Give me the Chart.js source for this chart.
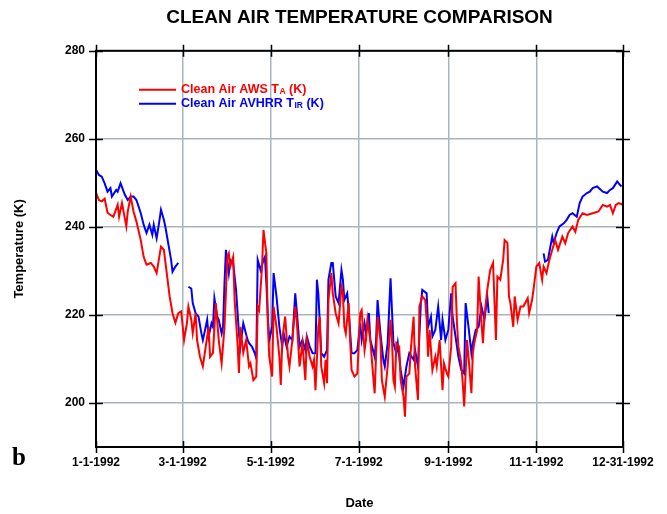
<!DOCTYPE html>
<html>
<head>
<meta charset="utf-8">
<title>Clean Air Temperature Comparison</title>
<script src="https://cdn.jsdelivr.net/npm/chart.js@4.4.1/dist/chart.umd.min.js"></script>
<style>
  html, body { margin: 0; padding: 0; background: #fff; }
  #wrap { width: 667px; height: 514px; position: relative; }
</style>
</head>
<body>
<div id="wrap"><canvas id="tempChart"></canvas></div>
<script>
// day of year (0 = 1-1-1992) and temperature (K)
const awsDay = [0, 2, 4, 6, 8, 10, 12, 15, 16, 18, 21, 22, 24, 26, 28, 31, 33, 35, 38, 40, 42, 45, 47, 49, 51, 53, 55, 57, 59, 61,
    63, 64, 66, 67, 69, 70, 72, 74, 76, 78, 79, 81, 83, 85, 87, 89, 91, 92, 93, 95, 96, 98, 99, 100, 102, 104, 106, 107, 109, 111,
    112, 113, 115, 116, 118, 119, 120, 122, 123, 125, 127, 128, 129, 131, 133, 134, 136, 138, 139, 141, 143, 145, 146, 148, 150, 151, 152, 154, 155, 156,
    158, 159, 160, 161, 163, 164, 166, 168, 170, 171, 172, 173, 175, 176, 177, 179, 181, 183, 184, 186, 187, 188, 190, 192, 193, 195, 197, 198, 200, 202,
    204, 205, 206, 207, 208, 210, 211, 213, 214, 215, 217, 218, 220, 221, 223, 224, 226, 228, 229, 230, 231, 233, 235, 236, 238, 240, 241, 243, 244, 246,
    247, 249, 250, 251, 253, 254, 255, 257, 258, 260, 261, 262, 264, 265, 267, 268, 269, 271, 273, 275, 277, 278, 280, 282, 283, 285, 286, 287, 289, 290,
    292, 294, 296, 299, 300, 302, 303, 305, 307, 309, 310, 312, 314, 316, 318, 320, 323, 325, 327, 330, 332, 334, 337, 340, 344, 348, 351, 354, 356, 358,
    360, 362, 365];
const awsTemp = [247.8, 246.1, 245.8, 246.4, 243.2, 242.7, 242.3, 245.0, 242.3, 245.4, 240.1, 243.5, 246.9, 243.5, 241.2, 237.0, 233.2, 231.4, 231.8, 231.0, 229.5, 235.5, 234.8, 229.5, 224.2, 220.4, 218.2, 220.4, 220.8, 214.3,
    218.2, 221.9, 218.9, 215.9, 220.4, 214.3, 210.5, 208.3, 212.8, 217.3, 210.5, 211.4, 222.7, 214.3, 209.0, 217.3, 233.2, 234.0, 231.0, 233.2, 223.4, 213.6, 206.8, 217.3, 211.4, 214.3, 208.3, 209.0, 205.2, 206.0,
    221.9, 221.1, 231.0, 239.3, 234.0, 218.2, 210.5, 206.0, 221.9, 217.3, 210.5, 204.1, 214.3, 219.6, 210.5, 208.3, 214.3, 221.9, 218.9, 208.3, 213.6, 205.2, 214.3, 210.5, 208.3, 209.8, 202.9, 217.3, 219.6, 208.3,
    204.5, 209.8, 204.5, 223.4, 229.5, 224.9, 220.4, 218.1, 226.4, 224.9, 217.3, 215.8, 222.7, 214.3, 207.5, 206.0, 206.7, 220.4, 221.1, 212.0, 214.3, 218.9, 214.3, 206.0, 202.2, 219.6, 214.3, 205.2, 201.4, 208.3,
    218.9, 214.3, 205.2, 203.7, 213.6, 212.8, 205.2, 201.4, 196.9, 206.0, 206.7, 212.0, 219.6, 208.3, 200.7, 221.9, 224.2, 223.4, 218.9, 210.5, 216.6, 207.5, 210.5, 208.3, 214.3, 202.9, 209.0, 206.7, 206.0, 212.8,
    226.4, 227.2, 218.1, 212.8, 209.0, 204.5, 199.2, 214.3, 210.5, 202.2, 211.3, 213.6, 216.6, 228.7, 218.1, 213.6, 219.6, 225.7, 230.2, 231.8, 214.3, 228.7, 228.0, 232.5, 237.0, 236.3, 224.2, 222.7, 217.3, 224.2,
    218.9, 221.9, 221.9, 223.8, 220.4, 223.4, 225.7, 231.0, 231.8, 228.0, 231.0, 229.5, 232.5, 234.8, 237.0, 234.8, 237.8, 236.3, 238.6, 240.1, 238.9, 241.6, 243.1, 242.7, 243.1, 243.5, 245.0, 244.6, 245.0, 243.1,
    245.0, 245.4, 245.0];

const avhrrDay = [0, 2, 4, 6, 8, 10, 11, 14, 15, 17, 20, 22, 24, 26, 28, 31, 33, 35, 37, 39, 40, 42, 44, 45, 47, 48, 50, 52, 53, 55,
    57, 60, 64, 66, 67, 69, 71, 73, 74, 75, 77, 78, 80, 81, 82, 84, 85, 87, 88, 89, 90, 92, 93, 95, 97, 99, 100, 102, 105, 106,
    108, 110, 111, 112, 114, 116, 117, 118, 119, 120, 122, 123, 125, 127, 129, 130, 132, 134, 136, 138, 139, 141, 143, 145, 146, 148, 150, 152, 153, 154,
    156, 158, 160, 161, 163, 164, 166, 168, 170, 171, 172, 174, 175, 177, 179, 181, 183, 184, 186, 187, 189, 190, 193, 194, 195, 197, 199, 200, 202, 203,
    204, 206, 208, 209, 211, 213, 215, 216, 217, 220, 221, 223, 225, 226, 229, 230, 232, 233, 235, 237, 239, 240, 242, 244, 246, 247, 249, 251, 253, 255,
    256, 258, 260, 261, 263, 265, 267, 269, 271, 272, 290, 310, 311, 313, 316, 317, 319, 321, 324, 326, 328, 330, 333, 335, 337, 340, 342, 344, 347, 349,
    351, 354, 356, 358, 361, 363, 364];
const avhrrTemp = [253.0, 251.8, 251.4, 249.9, 248.0, 248.8, 246.9, 248.4, 248.0, 249.9, 247.3, 246.1, 246.9, 246.9, 246.1, 243.1, 240.5, 238.6, 240.5, 238.2, 240.5, 237.4, 241.6, 243.9, 241.6, 240.1, 236.3, 232.5, 229.8, 231.0,
    231.8, null, 226.4, 226.0, 222.7, 220.4, 219.6, 215.8, 214.3, 215.8, 218.9, 215.1, 218.1, 217.3, 223.8, 219.6, 218.9, 215.8, 217.3, 227.2, 234.8, 229.5, 232.5, 231.8, 225.7, 215.8, 212.8, 218.1, 214.3, 213.6,
    212.8, 211.3, 210.2, 232.5, 230.2, 232.5, 233.2, 227.2, 219.6, 214.3, 217.3, 229.5, 224.2, 217.3, 212.8, 215.8, 212.8, 215.1, 214.3, 224.9, 221.1, 212.8, 214.3, 212.0, 215.1, 212.8, 211.3, 211.3, 228.0, 224.9,
    211.3, 210.5, 212.0, 228.0, 231.8, 231.8, 224.2, 222.7, 230.2, 228.0, 223.4, 224.9, 221.1, 211.3, 211.3, 212.0, 218.1, 214.3, 218.1, 215.8, 220.4, 214.3, 210.5, 214.3, 223.4, 215.8, 209.8, 208.3, 213.6, 221.1,
    228.3, 213.6, 211.3, 213.6, 207.5, 203.7, 208.3, 209.8, 211.3, 209.8, 212.0, 208.3, 222.7, 225.7, 224.9, 217.3, 219.6, 215.1, 216.6, 221.9, 214.3, 218.9, 214.3, 216.6, 224.9, 219.6, 215.1, 210.5, 207.5, 206.7,
    222.7, 217.3, 211.3, 213.6, 216.6, 217.3, 221.9, 218.9, 224.2, 220.4, null, 234.0, 232.1, 232.5, 237.8, 236.3, 238.6, 240.1, 240.8, 241.6, 242.7, 243.1, 242.3, 245.4, 246.9, 247.7, 248.0, 248.8, 249.2, 248.6,
    248.0, 247.7, 248.4, 248.8, 250.3, 249.5, 249.2];

const xTickDays = [0, 60, 121, 182, 244, 305, 365];
const xTickLabels = ["1-1-1992", "3-1-1992", "5-1-1992", "7-1-1992", "9-1-1992", "11-1-1992", "12-31-1992"];
const yTicks = [200, 220, 240, 260, 280];

const gridColor = "#a9b6bd";
const fontFamily = "'Liberation Sans', Arial, Helvetica, sans-serif";

Chart.defaults.font.family = fontFamily;
Chart.defaults.color = "#000";

// black frame with tick marks crossing each side, legend and panel letter
const framePlugin = {
    id: "frame",
    afterDatasetsDraw(chart) {
        let ctx = chart.ctx;
        let a = chart.chartArea;
        let xs = chart.scales.x;
        let ys = chart.scales.y;
        ctx.save();
        ctx.strokeStyle = "#000";
        ctx.lineWidth = 2;
        ctx.strokeRect(a.left, a.top, a.right - a.left, a.bottom - a.top);
        ctx.lineWidth = 1.5;
        ctx.beginPath();
        xTickDays.forEach(d => {
            let px = Math.round(xs.getPixelForValue(d)) + 0.5;
            ctx.moveTo(px, a.top - 6); ctx.lineTo(px, a.top + 6);
            ctx.moveTo(px, a.bottom - 6); ctx.lineTo(px, a.bottom + 6);
        });
        yTicks.forEach(v => {
            let py = Math.round(ys.getPixelForValue(v)) + 0.5;
            ctx.moveTo(a.left - 7, py); ctx.lineTo(a.left + 7, py);
            ctx.moveTo(a.right - 7, py); ctx.lineTo(a.right + 7, py);
        });
        ctx.stroke();
        ctx.restore();
    },
    afterDraw(chart) {
        let ctx = chart.ctx;
        let a = chart.chartArea;
        ctx.save();
        drawLegendItem(ctx, a.left + 43, a.top + 39, "#ff0000", "Clean Air AWS T", "A", " (K)");
        drawLegendItem(ctx, a.left + 43, a.top + 53, "#0000ff", "Clean Air AVHRR T", "IR", " (K)");
        ctx.fillStyle = "#000";
        ctx.font = "bold 25px 'Liberation Serif', 'Times New Roman', serif";
        ctx.textBaseline = "middle";
        ctx.textAlign = "left";
        ctx.fillText("b", 12, 459);
        ctx.restore();
    }
};

function drawLegendItem(ctx, x, y, color, main, sub, tail) {
    ctx.strokeStyle = color;
    ctx.lineWidth = 2;
    ctx.beginPath();
    ctx.moveTo(x, y);
    ctx.lineTo(x + 37, y);
    ctx.stroke();
    ctx.fillStyle = color;
    ctx.textBaseline = "middle";
    ctx.textAlign = "left";
    let tx = x + 42;
    ctx.font = "bold 12.5px " + fontFamily;
    ctx.fillText(main, tx, y);
    tx += ctx.measureText(main).width + 0.5;
    ctx.font = "bold 8.5px " + fontFamily;
    ctx.fillText(sub, tx, y + 2);
    tx += ctx.measureText(sub).width;
    ctx.font = "bold 12.5px " + fontFamily;
    ctx.fillText(tail, tx, y);
}

function toPoints(days, temps) {
    return days.map((d, i) => ({ x: d, y: temps[i] }));
}

let ctx = document.getElementById("tempChart").getContext("2d");

new Chart(ctx, {
    type: "line",
    data: {
        datasets: [{
            label: "Clean Air AWS TA (K)",
            data: toPoints(awsDay, awsTemp),
            borderColor: "#ff0000",
            borderWidth: 2,
            pointRadius: 0,
            tension: 0,
            fill: false
        }, {
            label: "Clean Air AVHRR TIR (K)",
            data: toPoints(avhrrDay, avhrrTemp),
            borderColor: "#0000ff",
            borderWidth: 2,
            pointRadius: 0,
            tension: 0,
            spanGaps: false,
            fill: false
        }]
    },
    options: {
        responsive: true,
        maintainAspectRatio: false,
        animation: false,
        events: [],
        layout: { padding: { left: 0, right: 44, top: 0, bottom: 0 } },
        plugins: {
            legend: { display: false },
            tooltip: { enabled: false },
            title: {
                display: true,
                fullSize: false,
                text: "CLEAN AIR TEMPERATURE COMPARISON",
                color: "#000",
                font: { size: 19, weight: "bold" },
                padding: { top: 6, bottom: 22 }
            }
        },
        scales: {
            x: {
                type: "linear",
                min: 0,
                max: 365,
                afterBuildTicks: (scale) => { scale.ticks = xTickDays.map(v => ({ value: v })); },
                afterFit: (scale) => { scale.height = 67; },
                grid: { color: gridColor, lineWidth: 1.5, drawTicks: false },
                border: { display: false },
                ticks: {
                    padding: 8,
                    maxRotation: 0,
                    autoSkip: false,
                    color: "#000",
                    font: { size: 12, weight: "bold" },
                    callback: (value) => xTickLabels[xTickDays.indexOf(value)]
                },
                title: {
                    display: true,
                    text: "Date",
                    color: "#000",
                    font: { size: 13, weight: "bold" },
                    padding: { top: 0, bottom: 3 }
                }
            },
            y: {
                min: 190,
                max: 280,
                afterBuildTicks: (scale) => { scale.ticks = yTicks.map(v => ({ value: v })); },
                afterFit: (scale) => { scale.width = 96; },
                grid: { color: gridColor, lineWidth: 1.5, drawTicks: false },
                border: { display: false },
                ticks: {
                    padding: 11,
                    color: "#000",
                    font: { size: 12, weight: "bold" }
                },
                title: {
                    display: true,
                    text: "Temperature (K)",
                    color: "#000",
                    font: { size: 13, weight: "bold" },
                    padding: { top: 12, bottom: 0 }
                }
            }
        }
    },
    plugins: [framePlugin]
});
</script>
</body>
</html>
